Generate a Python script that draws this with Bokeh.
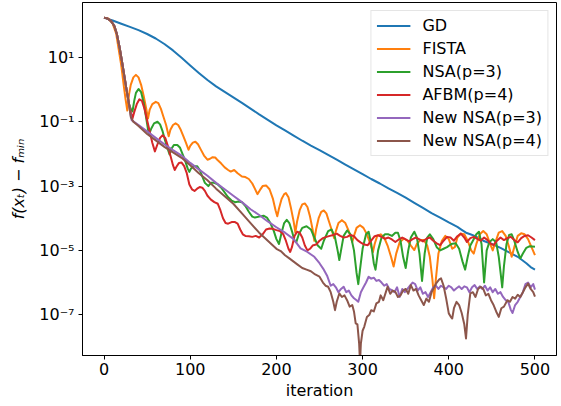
from bokeh.plotting import figure
from bokeh.models import Range1d, FixedTicker, CustomJSTickFormatter, Legend
from bokeh.embed import file_html
from bokeh.resources import INLINE

# ---- data (log10 of f(x_t) - f_min) ----
gd_it = [0, 10, 20, 30, 40, 50, 60, 70, 80, 90, 100, 110, 120, 130, 140, 150, 160, 170, 180, 190,
         200, 210, 220, 230, 240, 250, 260, 270, 280, 290, 300, 310, 320, 330, 340, 350, 360, 370,
         380, 390, 400, 410, 415, 420, 425, 430, 440, 450, 460, 470, 480, 490, 495, 500]
gd_log = [2.24, 2.15, 2.05, 1.95, 1.85, 1.73, 1.59, 1.42, 1.22, 0.99, 0.75, 0.52, 0.30, 0.10, -0.07,
          -0.24, -0.41, -0.59, -0.77, -0.94, -1.11, -1.27, -1.43, -1.59, -1.74, -1.88, -2.03, -2.18,
          -2.33, -2.48, -2.63, -2.78, -2.92, -3.07, -3.21, -3.36, -3.52, -3.68, -3.84, -3.98, -4.13,
          -4.27, -4.36, -4.45, -4.50, -4.55, -4.70, -4.80, -4.92, -5.06, -5.20, -5.40, -5.52, -5.60]

fista_it = [0, 5, 10, 14, 17, 20, 23, 25, 27, 29, 31, 34, 37, 40, 43, 46, 49, 51, 53, 56, 60, 63, 66,
            69, 72, 75, 77, 80, 83, 86, 89, 92, 95, 98, 100, 103, 106, 109, 112, 116, 120, 123, 126,
            129, 132, 136, 140, 144, 147, 151, 155, 160, 164, 168, 172, 175, 178, 181, 184, 188, 192,
            196, 199, 201, 203, 206, 209, 211, 214, 217, 220, 222, 224, 227, 230, 233, 236, 239, 242,
            244, 246, 249, 252, 255, 258, 261, 264, 267, 269, 272, 276, 280, 284, 288, 290, 293, 297,
            301, 305, 309, 312, 314, 317, 321, 325, 329, 333, 336, 339, 343, 348, 352, 356, 360, 363,
            367, 371, 375, 378, 381, 383, 385, 388, 392, 396, 400, 404, 407, 410, 414, 418, 422, 426,
            429, 432, 436, 440, 444, 448, 451, 454, 458, 462, 466, 470, 473, 476, 480, 484, 488, 492,
            496, 500]
fista_log = [2.24, 2.21, 2.05, 1.75, 1.25, 0.75, 0.10, -0.30, -0.65, -0.15, 0.15, 0.38, 0.46, 0.38,
             0.15, -0.20, -0.60, -0.90, -0.62, -0.45, -0.38, -0.42, -0.60, -0.85, -1.10, -1.45, -1.25,
             -1.10, -1.05, -1.10, -1.25, -1.45, -1.65, -1.87, -1.75, -1.65, -1.62, -1.70, -1.85, -2.05,
             -2.18, -2.15, -2.10, -2.11, -2.20, -2.30, -2.42, -2.50, -2.55, -2.50, -2.60, -2.70, -2.72,
             -2.78, -2.92, -3.08, -3.25, -3.12, -3.00, -2.98, -3.10, -3.40, -3.75, -3.94, -3.70, -3.40,
             -3.25, -3.22, -3.35, -3.70, -4.10, -4.45, -4.10, -3.75, -3.57, -3.54, -3.65, -3.95, -4.35,
             -4.70, -4.35, -4.00, -3.80, -3.76, -3.85, -4.10, -4.35, -4.62, -4.40, -4.15, -4.06, -4.15,
             -4.40, -4.74, -4.55, -4.30, -4.22, -4.30, -4.50, -4.80, -5.05, -4.80, -4.55, -4.50, -4.60,
             -4.85, -5.20, -5.50, -5.10, -4.75, -4.63, -4.70, -4.85, -4.99, -4.80, -4.68, -4.68, -4.85,
             -5.20, -5.90, -6.49, -5.90, -5.10, -4.70, -4.55, -4.65, -4.95, -4.90, -4.60, -4.48, -4.50,
             -4.70, -5.00, -5.10, -4.80, -4.50, -4.40, -4.50, -4.80, -5.00, -4.75, -4.45, -4.40, -4.55,
             -4.90, -5.20, -4.90, -4.55, -4.47, -4.50, -4.65, -4.90, -5.15]

nsa3_it = [0, 4, 8, 12, 15, 18, 21, 24, 27, 29, 31, 33, 35, 37, 40, 43, 46, 49, 52, 55, 58, 62, 65, 68,
           71, 74, 76, 78, 81, 85, 88, 91, 94, 97, 99, 101, 104, 108, 111, 114, 117, 121, 124, 128, 132,
           136, 140, 144, 148, 152, 156, 160, 164, 168, 172, 175, 180, 185, 189, 193, 197, 200, 203,
           206, 209, 212, 215, 218, 221, 223, 226, 230, 235, 240, 244, 248, 252, 255, 260, 264, 268,
           271, 273, 275, 278, 282, 286, 290, 293, 295, 297, 300, 304, 307, 310, 313, 315, 318, 322,
           326, 330, 334, 338, 341, 344, 347, 350, 353, 356, 360, 363, 366, 369, 372, 375, 378, 382,
           386, 390, 394, 398, 403, 408, 412, 416, 419, 422, 425, 428, 432, 435, 438, 441, 444, 447,
           451, 455, 458, 461, 462, 464, 467, 470, 473, 476, 480, 483, 486, 490, 494, 500]
nsa3_log = [2.24, 2.21, 2.14, 1.98, 1.72, 1.32, 0.85, 0.35, -0.15, -0.45, -0.60, -0.68, -0.35, -0.10,
            0.02, -0.08, -0.40, -0.90, -1.40, -1.20, -1.05, -1.00, -1.08, -1.30, -1.60, -1.85, -2.02,
            -1.85, -1.72, -1.72, -1.80, -2.00, -2.20, -2.45, -2.56, -2.45, -2.38, -2.38, -2.50, -2.70,
            -2.90, -3.00, -2.90, -2.90, -2.95, -3.05, -3.20, -3.35, -3.45, -3.50, -3.48, -3.50, -3.62,
            -3.80, -3.95, -3.98, -3.95, -3.92, -3.98, -4.15, -4.40, -4.65, -4.80, -4.45, -4.15, -4.05,
            -4.15, -4.40, -4.70, -4.75, -4.50, -4.30, -4.25, -4.35, -4.60, -4.85, -4.95, -4.70, -4.40,
            -4.35, -4.60, -5.00, -5.30, -5.00, -4.55, -4.38, -4.50, -5.00, -5.70, -6.05, -5.60, -4.95,
            -4.50, -4.42, -4.80, -5.40, -5.60, -5.00, -4.60, -4.50, -4.50, -4.55, -4.45, -4.45, -4.70,
            -5.20, -5.55, -5.00, -4.60, -4.42, -4.60, -5.10, -5.95, -5.10, -4.60, -4.50, -4.65, -4.90,
            -5.00, -4.95, -4.90, -4.80, -4.78, -4.95, -5.35, -5.60, -5.20, -4.85, -4.70, -4.50, -4.42,
            -4.80, -6.00, -5.00, -4.75, -4.65, -4.75, -5.20, -5.90, -6.15, -5.50, -4.80, -4.52, -4.50,
            -4.70, -5.05, -5.25, -5.10, -4.92, -4.87, -4.89]

afbm_it = [0, 4, 8, 12, 15, 18, 21, 24, 27, 29, 31, 33, 35, 38, 41, 44, 47, 50, 53, 56, 59, 62, 65, 68,
           71, 74, 77, 80, 82, 84, 87, 90, 93, 96, 99, 102, 105, 108, 111, 114, 117, 120, 124, 128, 132,
           135, 138, 141, 144, 148, 152, 155, 158, 161, 164, 168, 172, 176, 180, 184, 188, 192, 196,
           200, 204, 208, 211, 214, 216, 218, 221, 224, 227, 230, 233, 236, 239, 242, 246, 250, 254,
           258, 262, 266, 270, 274, 278, 282, 286, 290, 294, 298, 302, 306, 310, 314, 318, 322, 326,
           330, 334, 338, 342, 346, 350, 354, 358, 362, 366, 370, 374, 378, 382, 386, 390, 394, 398,
           402, 406, 410, 414, 418, 421, 425, 429, 433, 437, 441, 445, 449, 452, 456, 460, 464, 468,
           472, 476, 480, 484, 488, 492, 496, 500]
afbm_log = [2.24, 2.21, 2.14, 1.98, 1.72, 1.32, 0.85, 0.35, -0.15, -0.45, -0.70, -0.90, -0.70, -0.45,
            -0.30, -0.35, -0.60, -0.95, -1.30, -1.65, -1.92, -1.70, -1.50, -1.42, -1.50, -1.75, -2.05,
            -2.35, -2.50, -2.40, -2.28, -2.27, -2.38, -2.60, -2.95, -3.10, -3.15, -3.08, -3.03, -3.05,
            -3.15, -3.30, -3.42, -3.50, -3.55, -3.75, -4.00, -4.15, -4.17, -4.12, -4.12, -4.17, -4.35,
            -4.50, -4.55, -4.56, -4.58, -4.55, -4.60, -4.50, -4.35, -4.32, -4.33, -4.37, -4.40, -4.50,
            -4.70, -4.95, -5.05, -4.90, -4.55, -4.42, -4.45, -4.60, -4.85, -5.00, -4.95, -4.85, -4.82,
            -4.70, -4.62, -4.58, -4.55, -4.52, -4.48, -4.55, -4.60, -4.58, -4.52, -4.56, -4.68, -4.76,
            -4.82, -4.84, -4.70, -4.56, -4.53, -4.58, -4.64, -4.60, -4.66, -4.74, -4.66, -4.60, -4.66,
            -4.72, -4.65, -4.60, -4.66, -4.72, -4.64, -4.60, -4.70, -4.78, -4.84, -4.70, -4.58, -4.60,
            -4.70, -4.56, -4.48, -4.60, -4.74, -4.62, -4.58, -4.64, -4.70, -4.60, -4.68, -4.80, -4.84,
            -4.70, -4.60, -4.68, -4.62, -4.58, -4.68, -4.75, -4.62, -4.55, -4.53, -4.60, -4.68]

new3_it = [0, 4, 8, 12, 15, 18, 21, 24, 27, 29, 31, 32, 40, 50, 60, 70, 80, 90, 100, 110, 120, 130, 140,
           150, 160, 170, 180, 190, 200, 210, 220, 228, 236, 244, 250, 255, 259, 263, 266, 269, 272,
           275, 278, 281, 284, 287, 290, 293, 295, 298, 301, 304, 307, 310, 313, 316, 319, 322, 325,
           328, 331, 334, 337, 340, 343, 346, 349, 352, 355, 358, 361, 364, 367, 370, 373, 376, 379,
           382, 385, 388, 391, 394, 397, 400, 403, 406, 409, 412, 415, 418, 421, 424, 427, 430, 433,
           436, 439, 442, 445, 448, 451, 454, 457, 460, 463, 466, 469, 472, 474, 477, 480, 483, 486,
           489, 492, 495, 498, 500]
new3_log = [2.24, 2.21, 2.14, 1.98, 1.72, 1.32, 0.85, 0.35, -0.15, -0.45, -0.80, -0.95, -1.10, -1.30,
            -1.50, -1.70, -1.88, -2.05, -2.28, -2.48, -2.68, -2.90, -3.10, -3.30, -3.50, -3.72, -3.90,
            -4.10, -4.28, -4.45, -4.65, -4.94, -5.05, -5.20, -5.40, -5.60, -5.80, -6.10, -6.05, -6.15,
            -6.30, -6.20, -6.13, -6.30, -6.25, -6.40, -6.49, -6.55, -6.60, -6.30, -6.15, -6.00, -5.82,
            -5.88, -5.85, -5.95, -5.92, -6.00, -6.10, -6.05, -6.20, -6.24, -6.30, -6.15, -6.45, -6.20,
            -6.30, -6.20, -6.10, -6.00, -6.05, -6.25, -6.15, -6.35, -6.30, -6.45, -6.30, -6.15, -6.10,
            -6.20, -6.10, -6.15, -6.20, -6.10, -6.15, -6.25, -6.18, -6.12, -6.20, -6.12, -6.15, -6.30,
            -6.15, -6.08, -6.20, -6.12, -6.20, -6.10, -6.25, -6.15, -6.30, -6.20, -6.35, -6.30, -6.45,
            -6.55, -6.60, -6.85, -6.95, -6.70, -6.60, -6.45, -6.30, -6.05, -6.00, -6.15, -6.05, -6.22]

new4_it = [0, 4, 8, 12, 15, 18, 21, 24, 27, 29, 31, 34, 40, 50, 60, 70, 80, 90, 100, 110, 120, 130, 140,
           150, 160, 170, 180, 190, 200, 205, 210, 215, 220, 225, 230, 235, 240, 245, 250, 254, 257,
           260, 263, 266, 268, 270, 273, 276, 279, 282, 285, 288, 290, 292, 294, 296, 297, 298, 300,
           302, 305, 308, 310, 313, 316, 319, 321, 324, 327, 329, 332, 335, 338, 341, 344, 347, 350,
           353, 356, 359, 362, 365, 368, 371, 374, 377, 380, 383, 386, 389, 391, 394, 397, 400, 402,
           404, 406, 409, 412, 415, 418, 420, 422, 425, 428, 431, 434, 437, 440, 443, 446, 449, 452,
           455, 458, 461, 464, 468, 471, 474, 477, 480, 483, 486, 489, 492, 495, 498, 500]
new4_log = [2.24, 2.21, 2.14, 1.98, 1.72, 1.32, 0.85, 0.35, -0.15, -0.45, -0.85, -1.00, -1.13, -1.38,
            -1.58, -1.78, -1.95, -2.12, -2.35, -2.60, -2.82, -3.08, -3.32, -3.55, -3.85, -4.15, -4.45,
            -4.70, -4.95, -5.02, -5.15, -5.25, -5.35, -5.45, -5.55, -5.60, -5.65, -5.75, -5.82, -6.00,
            -6.10, -6.13, -6.30, -6.60, -6.86, -6.60, -6.34, -6.45, -6.40, -6.55, -6.75, -6.70, -6.90,
            -7.27, -7.30, -7.90, -8.50, -7.90, -7.50, -7.37, -7.07, -7.00, -6.86, -6.90, -6.65, -6.60,
            -6.40, -6.55, -6.30, -6.13, -6.35, -6.25, -6.29, -6.45, -6.40, -6.25, -6.20, -6.35, -6.08,
            -6.25, -6.20, -6.40, -6.55, -6.70, -6.50, -6.60, -6.30, -6.15, -6.00, -5.90, -5.87, -6.10,
            -6.50, -6.96, -7.05, -7.12, -6.80, -6.60, -6.70, -6.95, -7.30, -7.74, -7.00, -6.34, -6.30,
            -6.45, -6.20, -6.13, -6.20, -6.40, -6.35, -6.55, -6.70, -6.90, -7.07, -6.80, -6.75, -6.55,
            -6.60, -6.45, -6.50, -6.38, -6.45, -6.30, -6.15, -6.03, -6.20, -6.30, -6.44]

labels = ["GD", "FISTA", "NSA(p=3)", "AFBM(p=4)", "New NSA(p=3)", "New NSA(p=4)"]
colors = ["#1f77b4", "#ff7f0e", "#2ca02c", "#d62728", "#9467bd", "#8c564b"]
x_ticks = [0, 100, 200, 300, 400, 500]
y_ticks = [1e-7, 1e-5, 1e-3, 1e-1, 1e1]

series = [(gd_it, gd_log), (fista_it, fista_log), (nsa3_it, nsa3_log),
          (afbm_it, afbm_log), (new3_it, new3_log), (new4_it, new4_log)]

FONT = "DejaVu Sans"

p = figure(width=560, height=405, y_axis_type="log",
           x_range=Range1d(-25, 525), y_range=Range1d(10 ** -8.27, 10 ** 2.71),
           output_backend="svg", toolbar_location=None,
           min_border_left=82, min_border_right=4, min_border_top=2, min_border_bottom=50)

p.background_fill_color = "white"
p.border_fill_color = "white"
p.outline_line_color = "black"
p.outline_line_width = 1
p.xgrid.visible = False
p.ygrid.visible = False

items = []
for (it, lg), lab, col in zip(series, labels, colors):
    vals = [10 ** v for v in lg]
    r = p.line(it, vals, line_color=col, line_width=2, line_join="round")
    items.append((lab, [r]))

legend = Legend(items=items, location="top_right")
legend.label_text_font = FONT
legend.label_text_font_size = "16px"
legend.label_text_color = "black"
legend.label_height = 19
legend.glyph_height = 19
legend.glyph_width = 34
legend.label_standoff = 12
legend.spacing = 4
legend.padding = 5
legend.margin = 8
legend.border_line_color = "#cccccc"
legend.border_line_width = 1
legend.background_fill_color = "white"
legend.background_fill_alpha = 0.8
p.add_layout(legend)

p.xaxis.ticker = FixedTicker(ticks=x_ticks, minor_ticks=[])
p.yaxis.ticker = FixedTicker(ticks=y_ticks, minor_ticks=[])
p.yaxis.formatter = CustomJSTickFormatter(code="""
const e = Math.round(Math.log10(tick));
const m = {"-": "\\u207b", "0": "\\u2070", "1": "\\u00b9", "2": "\\u00b2", "3": "\\u00b3",
           "4": "\\u2074", "5": "\\u2075", "6": "\\u2076", "7": "\\u2077", "8": "\\u2078", "9": "\\u2079"};
return "10" + String(e).split("").map(c => m[c]).join("");
""")

for ax in (p.xaxis, p.yaxis):
    ax.axis_line_color = "black"
    ax.axis_line_width = 1
    ax.major_tick_line_color = "black"
    ax.major_tick_out = 4
    ax.major_tick_in = 0
    ax.minor_tick_out = 0
    ax.minor_tick_in = 0
    ax.major_label_text_font = FONT
    ax.major_label_text_font_size = "16px"
    ax.major_label_text_color = "black"
    ax.axis_label_text_font = FONT
    ax.axis_label_text_font_size = "16px"
    ax.axis_label_text_color = "black"
    ax.axis_label_text_font_style = "normal"

p.xaxis.axis_label = "iteration"
p.xaxis.major_label_standoff = 3
p.xaxis.axis_label_standoff = 3
p.yaxis.axis_label = "f(x\u209c) \u2212 f\u2098\u1d62\u2099"
p.yaxis.axis_label_text_font_style = "italic"
p.yaxis.major_label_standoff = 4
p.yaxis.axis_label_standoff = 8

open("out.html", "w").write(file_html(p, INLINE))
